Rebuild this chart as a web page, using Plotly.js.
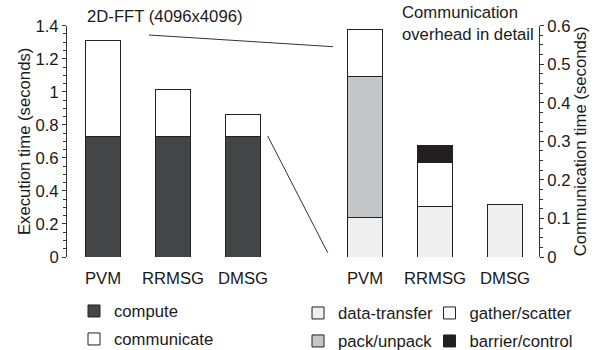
<!DOCTYPE html>
<html>
<head>
<meta charset="utf-8">
<script src="https://cdn.plot.ly/plotly-3.0.1.min.js"></script>
<style>html,body{margin:0;padding:0;background:#fff;}#chart{width:597px;height:350px;}</style>
</head>
<body>
<div id="chart"></div>
<script>
// ---- data ----
const categories = ['PVM', 'RRMSG', 'DMSG'];
// left panel: execution time (seconds)
const compute = [0.728, 0.728, 0.728];
const communicate = [0.585, 0.284, 0.134];
// right panel: communication overhead (seconds)
const dataTransfer = [0.102, 0.130, 0.137];
const packUnpack = [0.365, null, null];
const gatherScatter = [0.122, 0.116, null];
const barrierControl = [null, 0.043, null];

const leftTicks = [0, 0.2, 0.4, 0.6, 0.8, 1, 1.2, 1.4];
const rightTicks = [0, 0.1, 0.2, 0.3, 0.4, 0.5, 0.6];

const FONT = 'Liberation Sans, Arial, Helvetica, sans-serif';
const FS = 16.7;
const TXT = '#1a1a1a';
const EDGE = {color: '#222', width: 1};
const F = {family: FONT, size: FS, color: TXT};

function bar(name, y, color, xa, ya, legend, group) {
  return {
    type: 'bar', name: name, x: categories, y: y,
    xaxis: xa, yaxis: ya,
    marker: {color: color, line: EDGE},
    legend: legend, legendgroup: group,
    hoverinfo: 'name+y'
  };
}

const traces = [
  bar('compute', compute, '#444547', 'x', 'y', 'legend', 'g1'),
  bar('communicate', communicate, '#ffffff', 'x', 'y', 'legend', 'g2'),
  bar('data-transfer', dataTransfer, '#efefef', 'x2', 'y2', 'legend2', 'g3'),
  bar('pack/unpack', packUnpack, '#c5c6c8', 'x2', 'y2', 'legend2', 'g4'),
  bar('gather/scatter', gatherScatter, '#ffffff', 'x2', 'y2', 'legend3', 'g5'),
  bar('barrier/control', barrierControl, '#231f20', 'x2', 'y2', 'legend3', 'g6')
];

const W = 597, H = 350;
const px = v => v / W;
const py = v => 1 - v / H;
const yDom = [py(257), py(25.7)];

const legendBase = {
  bgcolor: 'rgba(0,0,0,0)', borderwidth: 0,
  font: F,
  orientation: 'v', xanchor: 'left', yanchor: 'top',
  tracegroupgap: 3.3, traceorder: 'grouped'
};

const layout = {
  width: W, height: H,
  margin: {l: 0, r: 0, t: 0, b: 0, autoexpand: false},
  paper_bgcolor: '#fff', plot_bgcolor: '#fff',
  font: F,
  barmode: 'stack', bargap: 0.5,
  showlegend: true,
  xaxis: {
    domain: [px(67), px(278)], range: [-0.514, 2.5], anchor: 'y',
    type: 'category', showline: false, ticks: '', showgrid: false, zeroline: false,
    tickfont: F, ticklabelstandoff: 9, fixedrange: true
  },
  yaxis: {
    domain: yDom, range: [0, 1.4], anchor: 'x',
    tickvals: leftTicks, ticktext: leftTicks.map(String),
    showline: true, linecolor: '#333', linewidth: 1, mirror: false,
    ticks: 'outside', ticklen: 4, tickwidth: 1, tickcolor: '#333',
    minor: {dtick: 0.05, ticks: 'outside', ticklen: 3, tickwidth: 1, tickcolor: '#333', showgrid: false},
    showgrid: false, zeroline: false,
    tickfont: F, automargin: true,
    title: {text: 'Execution time (seconds)', font: F, standoff: 0},
    fixedrange: true
  },
  xaxis2: {
    domain: [px(330), px(539)], range: [-0.5, 2.486], anchor: 'y2',
    type: 'category', showline: false, ticks: '', showgrid: false, zeroline: false,
    tickfont: F, ticklabelstandoff: 9, fixedrange: true
  },
  yaxis2: {
    domain: yDom, range: [0, 0.6], anchor: 'x2', side: 'right',
    tickvals: rightTicks, ticktext: rightTicks.map(String),
    showline: true, linecolor: '#333', linewidth: 1,
    ticks: 'outside', ticklen: 4, tickwidth: 1, tickcolor: '#333',
    minor: {dtick: 0.025, ticks: 'outside', ticklen: 3, tickwidth: 1, tickcolor: '#333', showgrid: false},
    showgrid: false, zeroline: false,
    tickfont: F, automargin: true,
    title: {text: 'Communication time (seconds)', font: F, standoff: 3},
    fixedrange: true
  },
  legend: Object.assign({}, legendBase, {x: px(74), y: py(293.6)}),
  legend2: Object.assign({}, legendBase, {x: px(298), y: py(295.6)}),
  legend3: Object.assign({}, legendBase, {x: px(429.5), y: py(295.6)}),
  annotations: [
    {text: '2D-FFT (4096x4096)', xref: 'paper', yref: 'paper', x: px(85), y: py(16.7),
     xanchor: 'left', yanchor: 'middle', showarrow: false, font: F},
    {text: 'Communication<br>overhead in detail', xref: 'paper', yref: 'paper', x: px(400), y: py(23.4),
     xanchor: 'left', yanchor: 'middle', align: 'left', showarrow: false, font: F}
  ],
  shapes: [
    {type: 'line', xref: 'paper', yref: 'paper', x0: px(149), y0: py(35), x1: px(333), y1: py(46.7),
     line: {color: '#333', width: 1}},
    {type: 'line', xref: 'paper', yref: 'paper', x0: px(267.7), y0: py(136), x1: px(327.7), y1: py(252.7),
     line: {color: '#333', width: 1}}
  ]
};

Plotly.newPlot('chart', traces, layout, {displayModeBar: false, staticPlot: true});
</script>
</body>
</html>
